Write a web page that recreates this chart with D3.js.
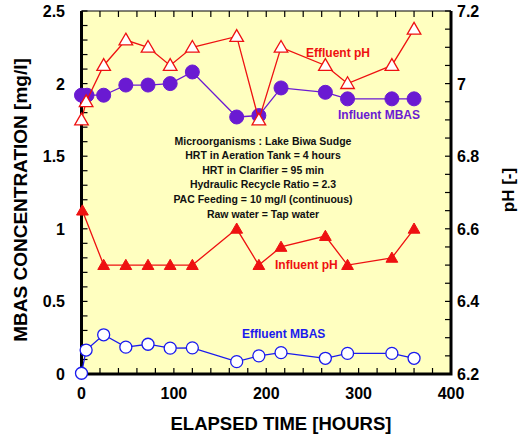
<!DOCTYPE html>
<html>
<head>
<meta charset="utf-8">
<script src="https://cdn.jsdelivr.net/npm/d3@7"></script>
<style>
body{margin:0;background:#fff;}
text{font-family:Arial,"Liberation Sans",sans-serif;font-weight:bold;}
</style>
</head>
<body>
<svg id="chart" width="521" height="437"></svg>
<script>
// elapsed time of each sample [hours]
var tEffPH   = [0, 5, 24, 48, 72, 96, 120, 168, 192, 216, 264, 288, 336, 360]
var effluentPH = [6.90, 6.95, 7.05, 7.12, 7.10, 7.05, 7.10, 7.13, 6.90, 7.10, 7.05, 7.00, 7.05, 7.15]

var tInfMBAS = [0, 6, 24, 48, 72, 96, 120, 168, 192, 216, 264, 288, 336, 360]
var influentMBAS = [1.92, 1.92, 1.92, 1.99, 1.99, 2.00, 2.08, 1.77, 1.78, 1.97, 1.94, 1.895, 1.895, 1.895]

var tInfPH   = [1, 24, 48, 72, 96, 120, 168, 192, 216, 264, 288, 336, 360]
var influentPH = [6.65, 6.5, 6.5, 6.5, 6.5, 6.5, 6.6, 6.5, 6.55, 6.58, 6.5, 6.52, 6.6]

var tEffMBAS = [0, 5, 24, 48, 72, 96, 120, 168, 192, 216, 264, 288, 336, 360]
var effluentMBAS = [0.005, 0.165, 0.27, 0.185, 0.205, 0.178, 0.18, 0.085, 0.125, 0.147, 0.108, 0.142, 0.142, 0.108]

var xTicks = [0, 100, 200, 300, 400]
var yLeftTicks = [0, 0.5, 1, 1.5, 2, 2.5]
var yRightTicks = [6.2, 6.4, 6.6, 6.8, 7, 7.2]

var notes = ["Microorganisms : Lake Biwa Sudge",
             "HRT in Aeration Tank = 4 hours",
             "HRT in Clarifier = 95 min",
             "Hydraulic Recycle Ratio = 2.3",
             "PAC Feeding = 10 mg/l (continuous)",
             "Raw water = Tap water"]

var plot = {x: 81.5, y: 11, width: 369.5, height: 363}
var red = "#ee1111", purple = "#6a1ad2", blue = "#1a1aee"

var svg = d3.select("#chart")

var x = d3.scaleLinear().domain([0,400]).range([plot.x, plot.x+plot.width])
var yL = d3.scaleLinear().domain([0,2.5]).range([plot.y+plot.height, plot.y])
var yR = d3.scaleLinear().domain([6.2,7.2]).range([plot.y+plot.height, plot.y])

svg.append("rect")
    .attr("x",plot.x).attr("y",plot.y)
    .attr("width",plot.width).attr("height",plot.height)
    .style("fill","#ffffc0")

// minor ticks pointing inward
var g = svg.append("g").attr("class","ticks")
d3.range(0,401,20).forEach(function(v){
    g.append("line").attr("x1",x(v)).attr("x2",x(v)).attr("y1",plot.y+plot.height).attr("y2",plot.y+plot.height-6)
    g.append("line").attr("x1",x(v)).attr("x2",x(v)).attr("y1",plot.y).attr("y2",plot.y+6)
})
d3.range(0,26).forEach(function(i){
    var v = i/10
    g.append("line").attr("x1",plot.x).attr("x2",plot.x+6).attr("y1",yL(v)).attr("y2",yL(v))
})
d3.range(0,21).forEach(function(i){
    var v = 6.2 + i*0.05
    g.append("line").attr("x1",plot.x+plot.width).attr("x2",plot.x+plot.width-6).attr("y1",yR(v)).attr("y2",yR(v))
})
g.selectAll("line").style("stroke","black").style("stroke-width",1.2)

// frame: bold left, bottom, right; thin top
svg.append("path")
    .attr("d","M"+plot.x+","+plot.y+"V"+(plot.y+plot.height)+"H"+(plot.x+plot.width)+"V"+plot.y)
    .style("fill","none").style("stroke","black").style("stroke-width",3)
svg.append("line")
    .attr("x1",plot.x).attr("x2",plot.x+plot.width).attr("y1",plot.y).attr("y2",plot.y)
    .style("stroke","black").style("stroke-width",1.2)

// tick labels
svg.selectAll("text.xt").data(xTicks).enter().append("text")
    .attr("class","xt").attr("x",function(d){return x(d)}).attr("y",399)
    .style("text-anchor","middle").style("font-size","16px").text(function(d){return d})
svg.selectAll("text.yl").data(yLeftTicks).enter().append("text")
    .attr("class","yl").attr("x",65).attr("y",function(d){return yL(d)+6})
    .style("text-anchor","end").style("font-size","16px").text(function(d){return d})
svg.selectAll("text.yr").data(yRightTicks).enter().append("text")
    .attr("class","yr").attr("x",457).attr("y",function(d){return yR(d)+6})
    .style("text-anchor","start").style("font-size","16px").text(function(d){return d})

// axis titles
svg.append("text").attr("x",281).attr("y",430)
    .style("text-anchor","middle").style("font-size","18.5px").text("ELAPSED TIME [HOURS]")
svg.append("text").attr("transform","translate(27,200) rotate(-90)")
    .style("text-anchor","middle").style("font-size","19px").text("MBAS CONCENTRATION [mg/l]")
svg.append("text").attr("transform","translate(514,190) rotate(-90)")
    .style("text-anchor","middle").style("font-size","17px").text("pH [-]")

var tri = d3.symbol().type(d3.symbolTriangle)

function drawSeries(ts, vals, yScale, color, kind){
    var pts = ts.map(function(t,i){return [x(t), yScale(vals[i])]})
    svg.append("path").datum(pts)
        .attr("d", d3.line())
        .style("fill","none").style("stroke",color).style("stroke-width",1.3)
    var m = svg.append("g").selectAll("path").data(pts).enter()
    if(kind=="openTri"){
        m.append("path").attr("d",tri.size(80)())
            .attr("transform",function(d){return "translate("+d[0]+","+(d[1]+1)+")"})
            .style("fill","white").style("stroke",color).style("stroke-width",1.3)
    }
    else if(kind=="fillTri"){
        m.append("path").attr("d",tri.size(60)())
            .attr("transform",function(d){return "translate("+d[0]+","+(d[1]+1)+")"})
            .style("fill",color).style("stroke",color).style("stroke-width",1)
    }
    else if(kind=="fillCircle"){
        m.append("circle").attr("cx",function(d){return d[0]}).attr("cy",function(d){return d[1]})
            .attr("r",7).style("fill",color).style("stroke",color)
    }
    else{
        m.append("circle").attr("cx",function(d){return d[0]}).attr("cy",function(d){return d[1]})
            .attr("r",6).style("fill","white").style("stroke",color).style("stroke-width",1.3)
    }
}

drawSeries(tInfPH, influentPH, yR, red, "fillTri")
drawSeries(tEffMBAS, effluentMBAS, yL, blue, "openCircle")
drawSeries(tInfMBAS, influentMBAS, yL, purple, "fillCircle")
drawSeries(tEffPH, effluentPH, yR, red, "openTri")

// series labels
svg.append("text").attr("x",306).attr("y",57).style("fill",red).style("font-size","12px").text("Effluent pH")
svg.append("text").attr("x",338).attr("y",119).style("fill",purple).style("font-size","12px").text("Influent MBAS")
svg.append("text").attr("x",275).attr("y",269).style("fill",red).style("font-size","12px").text("Influent pH")
svg.append("text").attr("x",242).attr("y",338).style("fill",blue).style("font-size","12px").text("Effluent MBAS")

// conditions box text
svg.selectAll("text.note").data(notes).enter().append("text")
    .attr("class","note").attr("x",263)
    .attr("y",function(d,i){return 144.5 + i*14.6})
    .style("text-anchor","middle").style("font-size","10.5px").style("fill","#111")
    .text(function(d){return d})
</script>
</body>
</html>
